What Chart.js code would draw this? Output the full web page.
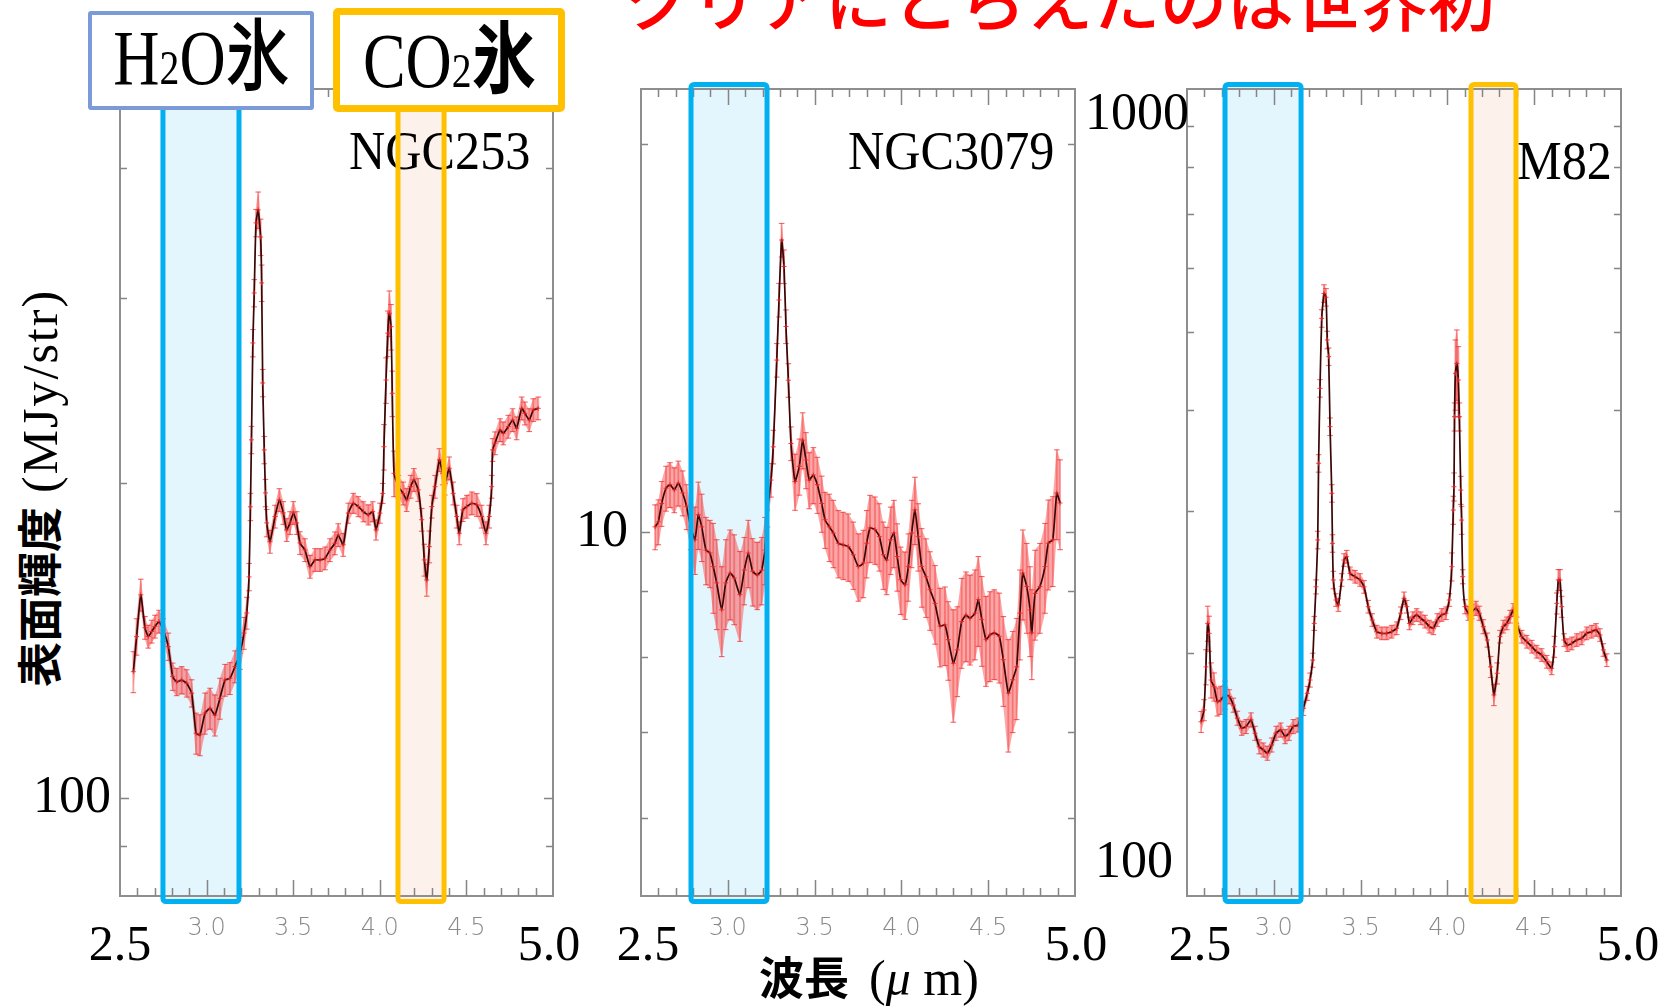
<!DOCTYPE html>
<html lang="ja">
<head>
<meta charset="utf-8">
<title>AKARI 2.5–5.0 μm spectra: NGC253 / NGC3079 / M82</title>
<script src="https://cdn.jsdelivr.net/npm/chart.js@4.4.1/dist/chart.umd.min.js"></script>
<style>
  html, body { margin: 0; padding: 0; background: #fff; width: 1665px; height: 1006px; overflow: hidden; }
  #stage { position: relative; width: 1665px; height: 1006px; overflow: hidden; }
  canvas.panel { position: absolute; }
  .lbl { position: absolute; white-space: nowrap; color: #000; line-height: 1; }
  .serif { font-family: "Liberation Serif", "DejaVu Serif", serif; }
  .goth { font-family: "Noto Sans CJK JP", "Noto Sans", sans-serif; }
  .num { font-size: 52px; }
  .big { font-size: 50px; transform: translateX(-50%); }
  .tag { position: absolute; background: #fff; box-sizing: border-box;
         display: flex; align-items: center; justify-content: center; }
  .tagtext { display: inline-block; white-space: nowrap; line-height: 1; font-size: 78px;
             transform: scaleX(0.82); position: relative; }
  .tagtext .small { font-size: 0.62em; }
</style>
</head>
<body>
<div id="stage">
  <canvas id="p1" class="panel"></canvas>
  <canvas id="p2" class="panel"></canvas>
  <canvas id="p3" class="panel"></canvas>

  <!-- headline -->
  <div class="lbl goth" id="headline" style="left:624px; top:-37px; font-size:67px; color:#ff0000; font-weight:500;">クリアにとらえたのは世界初</div>

  <!-- ice labels -->
  <div class="tag" style="left:88px; top:11px; width:226px; height:99px; border:4px solid #7b9bd8; border-radius:3px;">
    <span class="tagtext" style="top:-7px;"><span class="serif">H</span><span class="serif small">2</span><span class="serif">O</span><span class="goth" style="font-weight:500;">氷</span></span>
  </div>
  <div class="tag" style="left:333px; top:8px; width:232px; height:104px; border:7px solid #ffc000; border-radius:5px;">
    <span class="tagtext" style="top:-3px;"><span class="serif">CO</span><span class="serif small">2</span><span class="goth" style="font-weight:700;">氷</span></span>
  </div>

  <!-- y-axis values -->
  <div class="lbl serif num" style="right:1554px; top:769px;">100</div>
  <div class="lbl serif num" style="left:576px; top:503px;">10</div>
  <div class="lbl serif num" style="right:476px; top:86px;">1000</div>
  <div class="lbl serif num" style="right:492px; top:834px;">100</div>

  <!-- wavelength range ends -->
  <div class="lbl serif big" style="left:120px; top:918px;">2.5</div>
  <div class="lbl serif big" style="left:549px; top:918px;">5.0</div>
  <div class="lbl serif big" style="left:648px; top:918px;">2.5</div>
  <div class="lbl serif big" style="left:1076px; top:918px;">5.0</div>
  <div class="lbl serif big" style="left:1200px; top:918px;">2.5</div>
  <div class="lbl serif big" style="left:1628px; top:918px;">5.0</div>

  <!-- axis titles -->
  <div class="lbl" id="ytitle" style="left:40px; top:488px; transform:translate(-50%,-50%) rotate(-90deg);">
    <span class="goth" style="font-size:45px; font-weight:700;">表面輝度</span><span class="serif" style="font-size:50px; letter-spacing:2px; margin-left:14px;">(MJy/str)</span>
  </div>
  <div class="lbl" id="xtitle" style="left:759px; top:953px;">
    <span class="goth" style="font-size:45px; font-weight:700;">波長</span><span class="serif" style="font-size:50px; margin-left:20px;">(<i>μ</i> m)</span>
  </div>
</div>

<script>
// ---------------- spectra: wavelength [μm], surface brightness [MJy/sr] ----------------

const ngc253Wave = [
  2.577, 2.596, 2.620, 2.644, 2.663, 2.683, 2.702, 2.725, 2.750, 2.779,
  2.804, 2.827, 2.856, 2.885, 2.914, 2.939, 2.962, 2.991, 3.020, 3.048,
  3.077, 3.106, 3.135, 3.164, 3.193, 3.216, 3.232, 3.245, 3.253, 3.259,
  3.267, 3.275, 3.285, 3.298, 3.312, 3.318, 3.324, 3.333, 3.340, 3.347,
  3.366, 3.395, 3.420, 3.443, 3.462, 3.482, 3.501, 3.520, 3.539, 3.568,
  3.597, 3.626, 3.655, 3.684, 3.712, 3.741, 3.760, 3.789, 3.818, 3.847,
  3.876, 3.905, 3.934, 3.959, 3.978, 4.001, 4.017, 4.024, 4.036, 4.046,
  4.055, 4.065, 4.072, 4.082, 4.107, 4.135, 4.155, 4.178, 4.197, 4.222,
  4.242, 4.257, 4.271, 4.286, 4.300, 4.319, 4.344, 4.363, 4.376, 4.401,
  4.424, 4.444, 4.459, 4.479, 4.502, 4.531, 4.560, 4.588, 4.613, 4.632,
  4.646, 4.651, 4.665, 4.694, 4.713, 4.742, 4.767, 4.790, 4.819, 4.838,
  4.863, 4.886, 4.915
];
const ngc253Flux = [
  132.0, 142.6, 156.3, 145.4, 142.6, 144.2, 145.8, 147.4, 144.7, 139.5,
  130.6, 129.1, 129.6, 128.7, 125.9, 115.3, 114.9, 120.5, 121.8, 120.0,
  124.5, 129.6, 130.1, 133.5, 137.5, 143.7, 150.2, 162.6, 189.7, 219.8,
  272.0, 303.6, 354.2, 364.5, 343.4, 310.4, 249.1, 215.0, 195.6, 183.1,
  175.7, 185.7, 192.6, 187.2, 180.3, 183.1, 187.2, 183.1, 175.2, 172.5,
  166.3, 168.8, 168.8, 169.4, 172.5, 175.1, 178.3, 174.5, 187.1, 191.2,
  189.8, 187.7, 186.4, 187.7, 180.3, 187.1, 195.4, 216.5, 250.7, 277.9,
  290.4, 281.9, 243.5, 204.2, 198.3, 195.4, 192.6, 198.3, 201.3, 196.9,
  184.4, 168.8, 161.5, 173.8, 189.8, 198.3, 210.3, 204.2, 199.7, 206.5,
  195.4, 185.7, 179.0, 188.4, 189.8, 191.2, 190.5, 185.7, 179.0, 185.7,
  198.3, 215.0, 218.2, 224.6, 223.0, 226.3, 229.6, 225.5, 235.6, 233.0,
  229.6, 234.7, 235.6
];
const ngc253RelErr = [
  0.045, 0.040, 0.035, 0.025, 0.025, 0.025, 0.025, 0.025, 0.025, 0.030,
  0.030, 0.030, 0.030, 0.030, 0.030, 0.045, 0.045, 0.045, 0.045, 0.045,
  0.045, 0.035, 0.035, 0.035, 0.035, 0.035, 0.035, 0.030, 0.030, 0.030,
  0.030, 0.030, 0.030, 0.040, 0.040, 0.040, 0.030, 0.030, 0.030, 0.030,
  0.025, 0.025, 0.025, 0.025, 0.025, 0.025, 0.025, 0.025, 0.025, 0.025,
  0.025, 0.025, 0.025, 0.025, 0.025, 0.025, 0.025, 0.025, 0.022, 0.022,
  0.022, 0.022, 0.022, 0.022, 0.022, 0.022, 0.022, 0.050, 0.050, 0.050,
  0.050, 0.050, 0.050, 0.050, 0.025, 0.025, 0.025, 0.025, 0.025, 0.025,
  0.025, 0.035, 0.035, 0.035, 0.025, 0.025, 0.025, 0.025, 0.025, 0.025,
  0.025, 0.025, 0.025, 0.025, 0.025, 0.025, 0.025, 0.025, 0.025, 0.025,
  0.025, 0.025, 0.025, 0.025, 0.025, 0.025, 0.025, 0.025, 0.025, 0.025,
  0.025, 0.025, 0.025
];

const ngc3079Wave = [
  2.581, 2.600, 2.619, 2.644, 2.667, 2.692, 2.715, 2.740, 2.763, 2.786,
  2.811, 2.830, 2.850, 2.874, 2.897, 2.916, 2.936, 2.965, 2.988, 3.013,
  3.037, 3.070, 3.095, 3.118, 3.143, 3.170, 3.195, 3.214, 3.229, 3.249,
  3.262, 3.282, 3.295, 3.310, 3.324, 3.335, 3.349, 3.364, 3.387, 3.412,
  3.431, 3.450, 3.469, 3.493, 3.516, 3.541, 3.560, 3.585, 3.608, 3.637,
  3.665, 3.694, 3.723, 3.752, 3.781, 3.800, 3.819, 3.848, 3.873, 3.896,
  3.915, 3.938, 3.957, 3.976, 3.996, 4.021, 4.040, 4.059, 4.078, 4.097,
  4.117, 4.142, 4.165, 4.194, 4.222, 4.251, 4.270, 4.299, 4.322, 4.347,
  4.372, 4.395, 4.424, 4.443, 4.463, 4.487, 4.510, 4.535, 4.564, 4.587,
  4.616, 4.641, 4.664, 4.683, 4.699, 4.722, 4.741, 4.751, 4.770, 4.798,
  4.827, 4.846, 4.872, 4.895, 4.914
];
const ngc3079Flux = [
  10.09, 10.18, 10.52, 10.81, 10.88, 10.78, 10.91, 10.72, 10.46, 10.09,
  9.86, 10.31, 10.09, 9.68, 9.63, 9.40, 9.13, 8.70, 9.13, 9.29,
  9.21, 8.94, 9.34, 9.63, 9.32, 9.26, 9.34, 9.68, 10.40, 10.97,
  11.64, 13.59, 15.13, 16.84, 16.06, 14.43, 13.11, 11.71, 10.94, 11.24,
  11.78, 11.37, 10.97, 11.07, 10.88, 10.52, 10.22, 10.09, 9.98, 9.80,
  9.77, 9.74, 9.60, 9.40, 9.46, 9.80, 10.07, 10.04, 9.92, 9.60,
  9.51, 9.86, 9.98, 9.57, 9.18, 9.10, 9.40, 9.98, 10.40, 9.92,
  9.40, 9.23, 9.02, 8.80, 8.45, 8.47, 8.25, 7.91, 8.10, 8.52,
  8.62, 8.57, 8.65, 8.86, 8.55, 8.25, 8.32, 8.35, 8.30, 7.96,
  7.50, 7.68, 7.86, 8.65, 9.29, 9.07, 8.70, 8.35, 8.96, 9.07,
  9.40, 9.80, 9.86, 10.72, 10.53
];
const ngc3079RelErr = [
  0.04, 0.04, 0.04, 0.04, 0.04, 0.04, 0.04, 0.04, 0.04, 0.04,
  0.06, 0.06, 0.06, 0.06, 0.06, 0.08, 0.08, 0.08, 0.08, 0.08,
  0.08, 0.08, 0.06, 0.06, 0.06, 0.06, 0.06, 0.06, 0.03, 0.03,
  0.03, 0.03, 0.03, 0.03, 0.03, 0.03, 0.03, 0.03, 0.05, 0.05,
  0.05, 0.05, 0.05, 0.05, 0.05, 0.05, 0.05, 0.06, 0.06, 0.06,
  0.06, 0.06, 0.06, 0.06, 0.06, 0.06, 0.06, 0.06, 0.06, 0.06,
  0.06, 0.06, 0.06, 0.06, 0.06, 0.06, 0.06, 0.06, 0.06, 0.06,
  0.07, 0.07, 0.07, 0.07, 0.07, 0.07, 0.07, 0.10, 0.08, 0.08,
  0.08, 0.08, 0.08, 0.08, 0.08, 0.08, 0.08, 0.08, 0.08, 0.08,
  0.10, 0.09, 0.09, 0.08, 0.08, 0.08, 0.08, 0.08, 0.08, 0.08,
  0.08, 0.08, 0.08, 0.08, 0.08
];

const m82Wave = [
  2.581, 2.598, 2.609, 2.619, 2.628, 2.638, 2.656, 2.675, 2.694, 2.719,
  2.744, 2.767, 2.790, 2.815, 2.840, 2.869, 2.892, 2.916, 2.940, 2.963,
  2.988, 3.013, 3.040, 3.065, 3.088, 3.112, 3.141, 3.170, 3.193, 3.209,
  3.224, 3.233, 3.243, 3.253, 3.258, 3.266, 3.276, 3.289, 3.301, 3.308,
  3.316, 3.324, 3.334, 3.338, 3.343, 3.358, 3.372, 3.391, 3.404, 3.420,
  3.439, 3.468, 3.497, 3.520, 3.544, 3.567, 3.593, 3.622, 3.650, 3.679,
  3.708, 3.731, 3.750, 3.766, 3.781, 3.800, 3.823, 3.846, 3.871, 3.896,
  3.919, 3.942, 3.967, 3.992, 4.011, 4.025, 4.034, 4.038, 4.041, 4.046,
  4.054, 4.063, 4.069, 4.077, 4.082, 4.088, 4.101, 4.120, 4.140, 4.165,
  4.184, 4.207, 4.230, 4.249, 4.268, 4.287, 4.303, 4.322, 4.342, 4.361,
  4.380, 4.399, 4.428, 4.457, 4.486, 4.514, 4.543, 4.572, 4.601, 4.616,
  4.630, 4.639, 4.649, 4.658, 4.672, 4.691, 4.716, 4.745, 4.774, 4.802,
  4.831, 4.856, 4.879, 4.898, 4.918
];
const m82Flux = [
  164.4, 170.0, 192.3, 217.7, 211.6, 185.2, 181.7, 174.1, 174.9, 177.5,
  176.6, 172.4, 166.1, 161.4, 162.2, 165.3, 159.1, 153.1, 151.7, 150.3,
  153.9, 159.1, 160.6, 157.6, 159.1, 162.2, 162.9, 170.8, 178.3, 185.2,
  196.0, 217.7, 241.6, 276.2, 343.7, 425.7, 519.7, 558.0, 552.0, 488.7,
  466.0, 381.6, 315.5, 273.5, 246.4, 232.7, 229.4, 246.4, 260.8, 263.3,
  251.1, 248.7, 246.4, 241.6, 228.3, 219.8, 212.6, 211.6, 211.6, 212.6,
  214.7, 224.1, 233.8, 228.3, 217.7, 220.9, 223.0, 220.9, 218.8, 215.7,
  214.7, 219.8, 223.0, 224.1, 232.7, 255.9, 300.8, 321.5, 392.6, 444.3,
  457.1, 435.9, 392.6, 318.4, 292.3, 248.7, 228.3, 224.1, 225.1, 227.3,
  224.1, 215.7, 207.6, 192.3, 177.5, 188.8, 209.6, 215.7, 217.7, 221.9,
  226.2, 217.7, 209.6, 206.6, 203.7, 200.8, 198.9, 195.1, 191.5, 203.7,
  230.5, 246.4, 246.4, 228.3, 207.6, 204.6, 205.6, 207.6, 208.6, 211.6,
  212.6, 213.7, 210.6, 201.8, 196.0
];
const m82RelErr = [
  0.030, 0.030, 0.050, 0.050, 0.050, 0.050, 0.040, 0.040, 0.040, 0.040,
  0.020, 0.020, 0.020, 0.020, 0.020, 0.020, 0.020, 0.020, 0.020, 0.020,
  0.020, 0.020, 0.020, 0.020, 0.020, 0.020, 0.020, 0.020, 0.020, 0.020,
  0.020, 0.020, 0.020, 0.025, 0.025, 0.025, 0.025, 0.025, 0.025, 0.025,
  0.025, 0.025, 0.025, 0.025, 0.025, 0.018, 0.018, 0.018, 0.018, 0.018,
  0.018, 0.018, 0.018, 0.018, 0.018, 0.018, 0.018, 0.018, 0.018, 0.018,
  0.018, 0.018, 0.018, 0.018, 0.018, 0.018, 0.018, 0.018, 0.018, 0.018,
  0.018, 0.018, 0.018, 0.018, 0.018, 0.040, 0.040, 0.040, 0.040, 0.100,
  0.100, 0.100, 0.040, 0.040, 0.040, 0.020, 0.020, 0.020, 0.020, 0.020,
  0.020, 0.020, 0.020, 0.030, 0.030, 0.030, 0.018, 0.018, 0.018, 0.018,
  0.018, 0.018, 0.018, 0.018, 0.018, 0.018, 0.018, 0.018, 0.018, 0.030,
  0.030, 0.030, 0.030, 0.030, 0.018, 0.018, 0.018, 0.018, 0.018, 0.018,
  0.018, 0.018, 0.018, 0.018, 0.018
];

// axis ticks
const xLabelTicks = [3.0, 3.5, 4.0, 4.5];
const xTickLabels = ['3.0', '3.5', '4.0', '4.5'];
const ngc253YTicks = [90, 100, 200, 300, 400];
const ngc3079YTicks = [6, 7, 8, 9, 10, 20];
const m82YTicks = [200, 300, 400, 500, 600, 700, 800, 900];

// plotted brightness ranges
const ngc253Range = [80.6, 475.5];
const ngc3079Range = [5.22, 22.05];
const m82Range = [100, 1000];

// ice absorption windows marked on each panel [μm]
const ngc253H2O = [2.748, 3.187];
const ngc253CO2 = [4.105, 4.371];
const ngc3079H2O = [2.788, 3.226];
const m82H2O = [2.719, 3.157];
const m82CO2 = [4.136, 4.395];

// ---------------- drawing ----------------
const H2O_STYLE = { fill: 'rgba(0,176,240,0.11)', edge: '#00b0f0' };
const CO2_STYLE = { fill: 'rgba(244,176,132,0.16)', edge: '#ffc000' };

function decorPlugin(p) {
  return {
    id: 'decor',
    beforeDatasetsDraw(chart) {
      const { ctx, chartArea: a, scales } = chart;
      ctx.save();
      for (const b of p.bands) {
        const x0 = scales.x.getPixelForValue(b.span[0]);
        const x1 = scales.x.getPixelForValue(b.span[1]);
        ctx.fillStyle = b.style.fill;
        ctx.fillRect(x0, a.top - 4.5, x1 - x0, a.bottom - a.top + 10);
      }
      ctx.restore();
    },
    afterDatasetsDraw(chart) {
      const { ctx, chartArea: a, scales } = chart;
      const xs = scales.x, ys = scales.y;
      ctx.save();
      // plot frame
      ctx.strokeStyle = '#8e8e8e';
      ctx.lineWidth = 2;
      ctx.strokeRect(a.left, a.top, a.right - a.left, a.bottom - a.top);
      // inward tick marks on all four sides
      ctx.strokeStyle = '#858585';
      ctx.lineWidth = 1.5;
      ctx.beginPath();
      for (let k = 26; k < 50; k++) {
        const px = Math.round(xs.getPixelForValue(k / 10)) + 0.5;
        const len = k % 5 === 0 ? 16 : 8;
        ctx.moveTo(px, a.bottom); ctx.lineTo(px, a.bottom - len);
        ctx.moveTo(px, a.top); ctx.lineTo(px, a.top + len);
      }
      for (const v of p.yTicks) {
        const py = Math.round(ys.getPixelForValue(v)) + 0.5;
        const len = p.yMajor.includes(v) ? 9 : 7;
        ctx.moveTo(a.left, py); ctx.lineTo(a.left + len, py);
        ctx.moveTo(a.right, py); ctx.lineTo(a.right - len, py);
      }
      ctx.stroke();
      // galaxy name
      ctx.save();
      ctx.translate(a.left + (p.name.x - p.frame.left), a.top + (p.name.base - p.frame.top));
      ctx.scale(0.93, 1);
      ctx.fillStyle = '#000';
      ctx.font = '54px "Liberation Serif", serif';
      ctx.textBaseline = 'alphabetic';
      ctx.fillText(p.name.text, 0, 0);
      ctx.restore();
      // ice window outlines
      for (const b of p.bands) {
        const x0 = xs.getPixelForValue(b.span[0]);
        const x1 = xs.getPixelForValue(b.span[1]);
        ctx.strokeStyle = b.style.edge;
        ctx.lineWidth = 5;
        ctx.beginPath();
        ctx.roundRect(x0, a.top - 4.5, x1 - x0, a.bottom - a.top + 10, 3);
        ctx.stroke();
      }
      ctx.restore();
    }
  };
}

function buildPanel(p) {
  const padL = 14, padR = 14, padT = 19, axisH = 56;
  const cv = document.getElementById(p.id);
  const w = p.frame.right - p.frame.left + padL + padR;
  const h = p.frame.bottom - p.frame.top + padT + axisH;
  cv.width = w; cv.height = h;
  cv.style.width = w + 'px'; cv.style.height = h + 'px';
  cv.style.left = (p.frame.left - padL) + 'px';
  cv.style.top = (p.frame.top - padT) + 'px';

  const hi = p.wave.map((x, i) => ({ x, y: p.flux[i] * (1 + p.err[i]) }));
  const lo = p.wave.map((x, i) => ({ x, y: p.flux[i] * (1 - p.err[i]) }));

  new Chart(cv, {
    type: 'line',
    data: {
      datasets: [
        { // upper edge of the uncertainty band
          data: hi, borderWidth: 0, pointRadius: 0, fill: '+1', tension: 0.2,
          backgroundColor: 'rgba(250,80,80,0.5)', order: 6
        },
        { // lower edge of the uncertainty band
          data: lo, borderWidth: 0, pointRadius: 0, fill: false, tension: 0.2, order: 6
        },
        { // error bars
          type: 'bar',
          data: p.wave.map((x, i) => ({ x, y: [lo[i].y, hi[i].y] })),
          backgroundColor: 'rgba(245,55,55,0.45)', barThickness: 1.2, borderWidth: 0,
          grouped: false, order: 5
        },
        { // error bar caps
          type: 'scatter', data: hi.concat(lo), showLine: false,
          pointStyle: 'line', pointRadius: 2.8, borderWidth: 1.1,
          borderColor: 'rgba(240,45,45,0.7)', order: 4
        },
        { // spectrum
          data: p.wave.map((x, i) => ({ x, y: p.flux[i] })),
          borderColor: '#3a0606', borderWidth: 1.7, tension: 0.15,
          pointStyle: 'cross', pointRadius: 2.5, pointBorderWidth: 1,
          pointBorderColor: 'rgba(235,35,35,0.85)', fill: false, order: 1
        }
      ]
    },
    options: {
      responsive: false, animation: false, devicePixelRatio: 1, events: [],
      layout: { padding: { left: padL, right: padR, top: padT, bottom: 0 } },
      plugins: { legend: { display: false }, tooltip: { enabled: false } },
      scales: {
        x: {
          type: 'linear', min: 2.5, max: 5.0, offset: false,
          grid: { display: false, drawTicks: false }, border: { display: false },
          afterBuildTicks: s => { s.ticks = xLabelTicks.map(v => ({ value: v })); },
          afterFit: s => { s.height = axisH; },
          ticks: {
            autoSkip: false, maxRotation: 0, minRotation: 0, padding: 18,
            color: '#8a8a8a', font: { family: 'DejaVu Sans', size: 24, weight: '200' },
            callback: v => { const i = xLabelTicks.indexOf(v); return i >= 0 ? xTickLabels[i] : ''; }
          }
        },
        y: { type: 'logarithmic', display: false, min: p.range[0], max: p.range[1] }
      }
    },
    plugins: [decorPlugin(p)]
  });
}

buildPanel({
  id: 'p1', frame: { left: 120, right: 553, top: 89, bottom: 896 },
  wave: ngc253Wave, flux: ngc253Flux, err: ngc253RelErr, range: ngc253Range,
  yTicks: ngc253YTicks, yMajor: [100],
  bands: [{ span: ngc253H2O, style: H2O_STYLE }, { span: ngc253CO2, style: CO2_STYLE }],
  name: { text: 'NGC253', x: 349, base: 169 }
});
buildPanel({
  id: 'p2', frame: { left: 641, right: 1075, top: 89, bottom: 896 },
  wave: ngc3079Wave, flux: ngc3079Flux, err: ngc3079RelErr, range: ngc3079Range,
  yTicks: ngc3079YTicks, yMajor: [10],
  bands: [{ span: ngc3079H2O, style: H2O_STYLE }],
  name: { text: 'NGC3079', x: 848, base: 169 }
});
buildPanel({
  id: 'p3', frame: { left: 1187, right: 1621, top: 89, bottom: 896 },
  wave: m82Wave, flux: m82Flux, err: m82RelErr, range: m82Range,
  yTicks: m82YTicks, yMajor: [],
  bands: [{ span: m82H2O, style: H2O_STYLE }, { span: m82CO2, style: CO2_STYLE }],
  name: { text: 'M82', x: 1517, base: 179 }
});
</script>
</body>
</html>
